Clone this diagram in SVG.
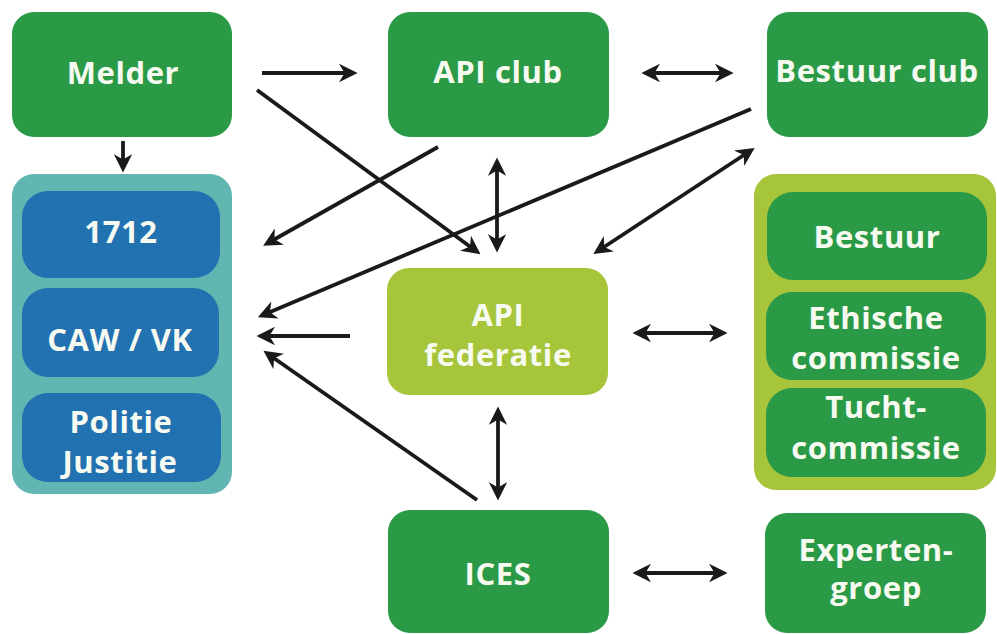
<svg xmlns="http://www.w3.org/2000/svg" width="997" height="634" viewBox="0 0 997 634">
<style>
.dg{fill:#2b9a46}
.lg{fill:#a6c53a}
.tl{fill:#62b6b1}
.bl{fill:#2271b1}
text{font-family:"Open Sans","Noto Sans","DejaVu Sans",sans-serif;font-weight:700;font-size:31px;letter-spacing:0.6px;fill:#f7faf0;text-anchor:middle}
.c line{stroke:#1a1a1a;stroke-width:3.8;fill:none}
.s{marker-end:url(#ah)}
.d{marker-start:url(#ah);marker-end:url(#ah)}
</style>
<defs>
<marker id="ah" viewBox="0 0 10 10" refX="7" refY="5" markerWidth="4.9" markerHeight="4.9" markerUnits="strokeWidth" orient="auto-start-reverse">
<path d="M0,0 L10,5 L0,10 L3,5 z" fill="#1a1a1a"/>
</marker>
</defs>
<rect width="997" height="634" fill="#ffffff"/>
<g id="melder"><rect class="dg" x="12" y="12" width="220" height="125" rx="22"/><text x="123" y="84">Melder</text></g>
<g id="apiclub"><rect class="dg" x="388" y="12" width="221" height="125" rx="22"/><text x="498" y="83">API club</text></g>
<g id="bestuurclub"><rect class="dg" x="767" y="12" width="221" height="125" rx="22"/><text x="877" y="82">Bestuur club</text></g>
<g id="hulp"><rect class="tl" x="12" y="174" width="220" height="320" rx="22"/>
<g id="n1712"><rect class="bl" x="22" y="191" width="198" height="87" rx="26"/><text x="121" y="243">1712</text></g>
<g id="caw"><rect class="bl" x="22" y="288" width="197" height="89" rx="26"/><text x="120" y="351">CAW / VK</text></g>
<g id="politie"><rect class="bl" x="22" y="393" width="199" height="89" rx="26"/><text x="121" y="433">Politie</text><text x="120" y="473">Justitie</text></g>
</g>
<g id="apifed"><rect class="lg" x="387" y="268" width="221" height="127" rx="22"/><text x="498" y="326">API</text><text x="498" y="366">federatie</text></g>
<g id="ices"><rect class="dg" x="388" y="510" width="221" height="123" rx="22"/><text x="498" y="585">ICES</text></g>
<g id="fedorg"><rect class="lg" x="754" y="174" width="242" height="316" rx="22"/>
<g id="bestuur"><rect class="dg" x="767" y="192" width="220" height="88" rx="26"/><text x="877" y="248">Bestuur</text></g>
<g id="ethische"><rect class="dg" x="766" y="292" width="220" height="88" rx="26"/><text x="876" y="329">Ethische</text><text x="876" y="369">commissie</text></g>
<g id="tucht"><rect class="dg" x="766" y="388" width="220" height="89" rx="26"/><text x="876" y="418">Tucht-</text><text x="876" y="459">commissie</text></g>
</g>
<g id="experten"><rect class="dg" x="765" y="513" width="221" height="120" rx="22"/><text x="876" y="561">Experten-</text><text x="876" y="599">groep</text></g>
<g id="connectors" class="c">
<line class="s" x1="123" y1="141" x2="123" y2="167"/>
<line class="s" x1="262" y1="73" x2="352" y2="73"/>
<line class="s" x1="257" y1="90" x2="476" y2="251"/>
<line class="d" x1="647" y1="73" x2="728" y2="73"/>
<line class="s" x1="438" y1="147" x2="268" y2="243"/>
<line class="d" x1="497" y1="163" x2="497" y2="247"/>
<line class="s" x1="751" y1="109" x2="263" y2="315"/>
<line class="d" x1="598" y1="251" x2="750" y2="151"/>
<line class="s" x1="350" y1="336" x2="262" y2="336"/>
<line class="s" x1="477" y1="500" x2="268" y2="354"/>
<line class="d" x1="498" y1="412" x2="498" y2="495"/>
<line class="d" x1="638" y1="333" x2="722" y2="333"/>
<line class="d" x1="638" y1="573" x2="722" y2="573"/>
</g>
</svg>
